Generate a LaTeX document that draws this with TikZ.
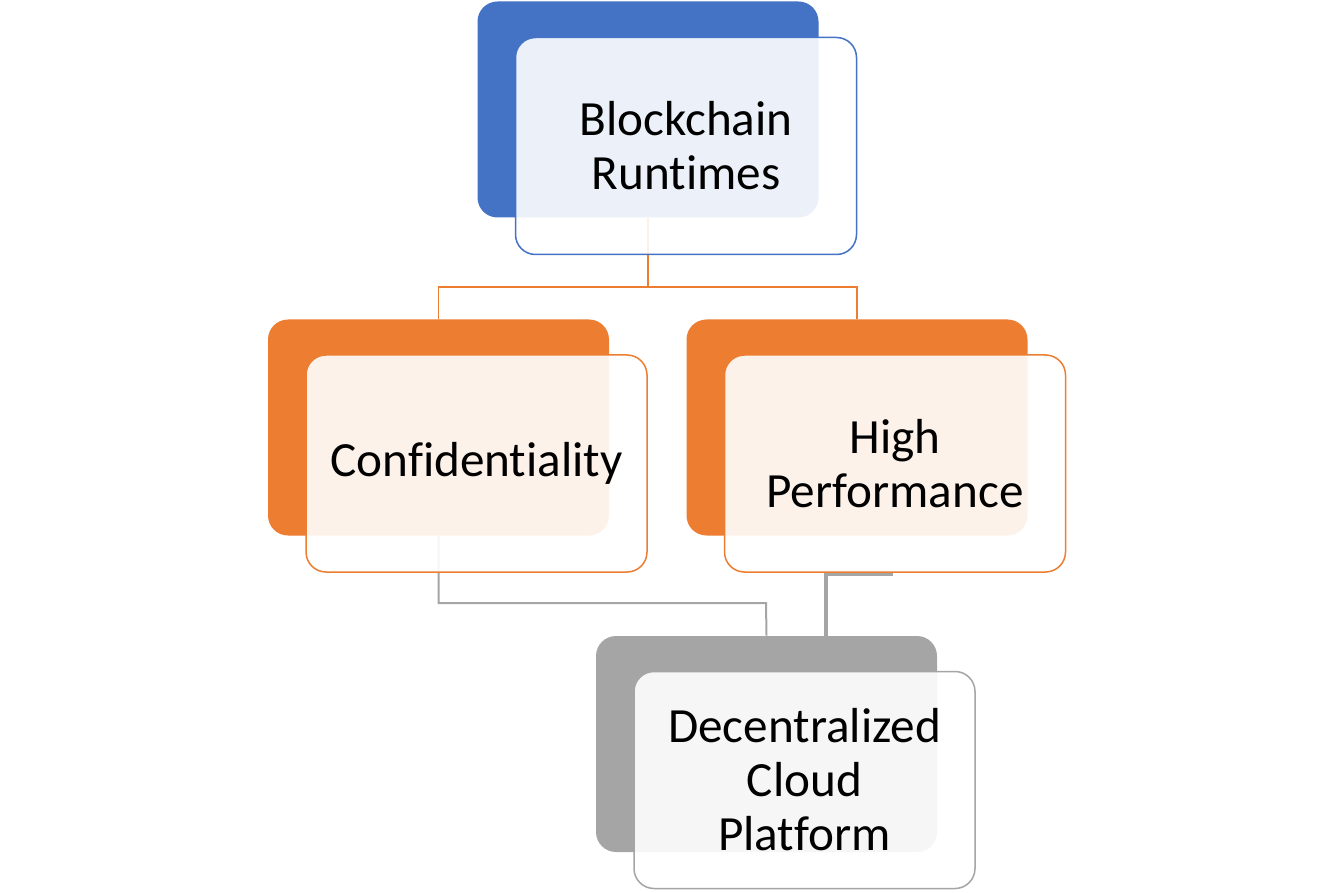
\documentclass[tikz,border=0pt]{standalone}
\usepackage{fontspec}
\setmainfont[Ligatures=NoCommon]{Carlito}
\definecolor{cblue}{HTML}{4472C4}
\definecolor{corange}{HTML}{ED7D31}
\definecolor{cgray}{HTML}{A5A5A5}
\begin{document}
\begin{tikzpicture}[x=0.5pt,y=-0.5pt,
  backbox/.style={draw=none,fill=#1,rounded corners=10pt,minimum width=170.5pt,minimum height=108pt,inner sep=0pt},
  frontbox/.style={draw=#1,line width=0.75pt,fill=white,fill opacity=0.9,text opacity=1,rounded corners=10pt,minimum width=170.5pt,minimum height=108.5pt,inner sep=0pt,align=center,font=\fontsize{24.6}{27}\selectfont},
  oline/.style={draw=corange,line width=0.75pt},
  gline/.style={draw=cgray,line width=1pt}]
\useasboundingbox (0,0) rectangle (1334,893);
% coordinates for connector bends
\coordinate (j1) at (648,287);
\coordinate (j2) at (766,603);
\coordinate (j3) at (826,574);
\coordinate (j4) at (893,574);
\path (648,109.5) coordinate (ptb) (438.5,427.5) coordinate (plb) (857,427.5) coordinate (prb) (766.5,744) coordinate (pgb);
% back boxes
\node[backbox=cblue] (tb) at (ptb) {};
\node[backbox=corange] (lb) at (plb) {};
\node[backbox=corange] (rb) at (prb) {};
\node[backbox=cgray] (gb) at (pgb) {};
% connectors
\draw[oline] (tb.south) -- (j1) -| (lb.north);
\draw[oline] (j1) -| (rb.north);
\draw[gline] (lb.south) |- (j2) -- (gb.north);
\draw[draw=cgray,line width=2pt] (j4) -- (j3) -- (gb.north -| j3);
% front boxes
\node[frontbox=cblue] (tf) at (686,146) {Blockchain\\Runtimes};
\node[frontbox=corange] (lf) at (476.5,463.5) {Confidentiality};
\node[frontbox=corange] (rf) at (895,463.5) {High\\Performance};
\node[frontbox=cgray] (gf) at (804.5,780) {Decentralized\\Cloud\\Platform};
\end{tikzpicture}
\end{document}
